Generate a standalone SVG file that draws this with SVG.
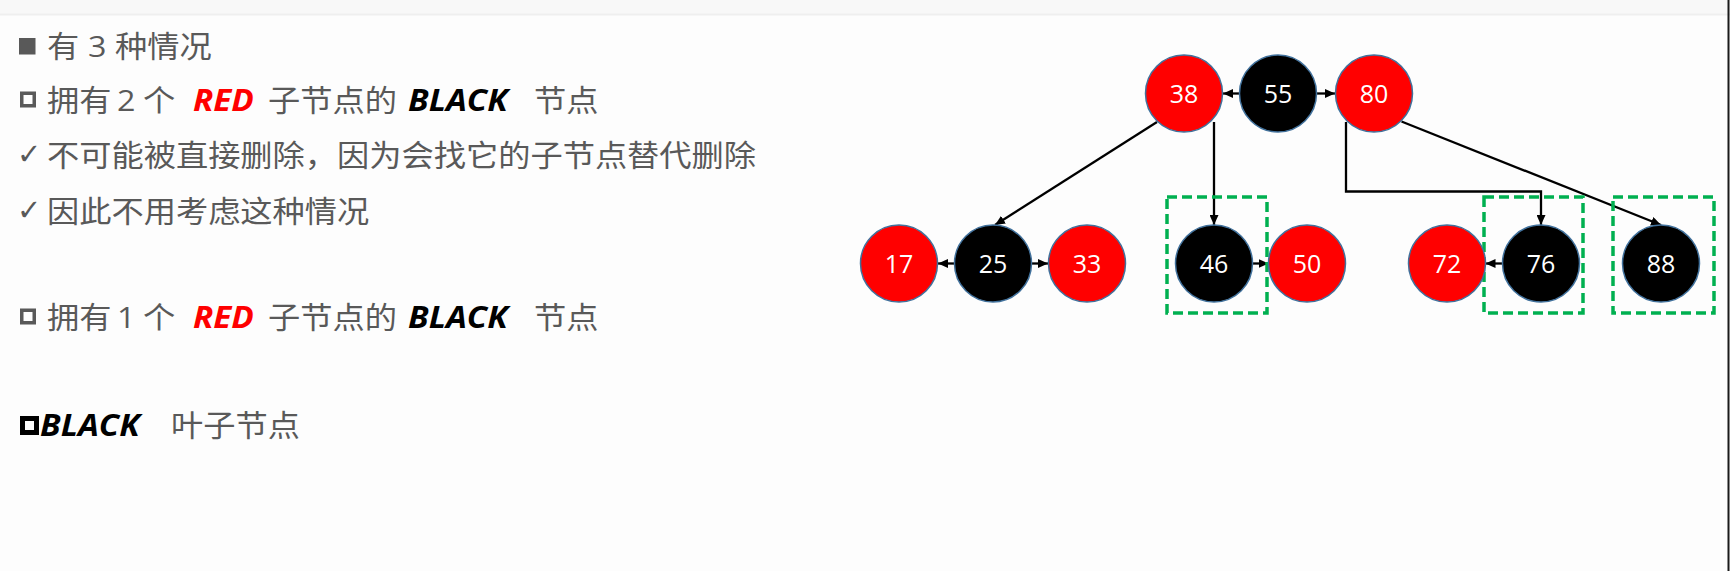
<svg xmlns="http://www.w3.org/2000/svg" width="1730" height="571" viewBox="0 0 1730 571">
<style>
.t{font-family:"Open Sans","Noto Sans CJK SC",sans-serif;font-size:30px;fill:#595959}
.bi{font-weight:700;font-style:italic;font-size:31px}
.red{fill:#ff0000}
.blk{fill:#000000}
.ck{font-family:"DejaVu Sans","Noto Sans CJK SC",sans-serif;font-size:29px;fill:#595959}
.nr{fill:#ff0000;stroke:#41719c;stroke-width:1.5}
.nb{fill:#000000;stroke:#41719c;stroke-width:1.5}
.nt{font-family:"Open Sans","Liberation Sans",sans-serif;font-size:25px;fill:#ffffff;text-anchor:middle}
.e{stroke:#000;stroke-width:2.3;fill:none;marker-end:url(#ah)}
.box{fill:none;stroke:#00b050;stroke-width:3.5;stroke-dasharray:10 5}
</style>
<defs>
<marker id="ah" markerUnits="userSpaceOnUse" markerWidth="10" markerHeight="9" refX="10" refY="4.5" orient="auto">
<path d="M0,0 L10,4.5 L0,9 z" fill="#000"/>
</marker>
</defs>
<rect x="0" y="0" width="1730" height="571" fill="#fdfdfd"/>
<rect x="0" y="0" width="1730" height="14" fill="#f8f8f8"/>
<line x1="0" y1="14.5" x2="1730" y2="14.5" stroke="#efefef" stroke-width="2"/>
<line x1="1728.5" y1="0" x2="1728.5" y2="571" stroke="#1a1a1a" stroke-width="2"/>

<g id="text">
<rect x="19" y="38" width="16.5" height="16.5" fill="#595959"/>
<rect x="21.75" y="93.25" width="12.5" height="12.5" fill="none" stroke="#595959" stroke-width="3.5"/>
<rect x="21.75" y="310.25" width="12.5" height="12.5" fill="none" stroke="#595959" stroke-width="3.5"/>
<rect x="22.5" y="418.5" width="14" height="14" fill="none" stroke="#000" stroke-width="5"/>
<text class="ck" x="17" y="164">✓</text>
<text class="ck" x="17" y="220">✓</text>
<g transform="scale(1.075,1)">
<text class="t" y="57"><tspan x="43.72">有</tspan><tspan x="81.86">3</tspan><tspan x="107">种情况</tspan></text>
<text class="t" y="111"><tspan x="43.72">拥有</tspan><tspan x="108.84">2</tspan><tspan x="133.02">个</tspan><tspan x="179.53" class="bi red">RED</tspan><tspan x="249.3">子节点的</tspan><tspan x="379.53" class="bi blk">BLACK</tspan><tspan x="496.74">节点</tspan></text>
<text class="t" x="43.72" y="166">不可能被直接删除，因为会找它的子节点替代删除</text>
<text class="t" x="43.72" y="222">因此不用考虑这种情况</text>
<text class="t" y="328"><tspan x="43.72">拥有</tspan><tspan x="108.84">1</tspan><tspan x="133.02">个</tspan><tspan x="179.53" class="bi red">RED</tspan><tspan x="249.3">子节点的</tspan><tspan x="379.53" class="bi blk">BLACK</tspan><tspan x="496.74">节点</tspan></text>
<text class="t" y="436"><tspan x="37.2" class="bi blk">BLACK</tspan><tspan x="159.07">叶子节点</tspan></text>
</g>
</g>

<g id="connectors">
<line class="e" x1="1239.5" y1="93.5" x2="1223" y2="93.5"/>
<line class="e" x1="1316.5" y1="93.5" x2="1335" y2="93.5"/>
<line class="e" x1="1157" y1="122" x2="995" y2="225"/>
<line class="e" x1="1214" y1="122" x2="1214" y2="225"/>
<polyline class="e" points="1346,122 1346,191.5 1541,191.5 1541,225"/>
<line class="e" x1="1401.5" y1="121.5" x2="1661" y2="225"/>
<line class="e" x1="954.5" y1="263.5" x2="938" y2="263.5"/>
<line class="e" x1="1031.5" y1="263.5" x2="1048" y2="263.5"/>
<line class="e" x1="1252.5" y1="263.5" x2="1268.5" y2="263.5"/>
<line class="e" x1="1502.5" y1="263.5" x2="1485.5" y2="263.5"/>
</g>

<g id="box-46"><rect class="box" x="1167" y="197" width="100" height="116"/></g>
<g id="box-76"><rect class="box" x="1484" y="197" width="99" height="116"/></g>
<g id="box-88"><rect class="box" x="1613" y="197" width="101" height="116"/></g>

<g id="n38"><circle class="nr" cx="1184" cy="93.5" r="38.5"/><text class="nt" x="1184" y="102.5">38</text></g>
<g id="n55"><circle class="nb" cx="1278" cy="93.5" r="38.5"/><text class="nt" x="1278" y="102.5">55</text></g>
<g id="n80"><circle class="nr" cx="1374" cy="93.5" r="38.5"/><text class="nt" x="1374" y="102.5">80</text></g>
<g id="n17"><circle class="nr" cx="899" cy="263.5" r="38.5"/><text class="nt" x="899" y="272.5">17</text></g>
<g id="n25"><circle class="nb" cx="993" cy="263.5" r="38.5"/><text class="nt" x="993" y="272.5">25</text></g>
<g id="n33"><circle class="nr" cx="1087" cy="263.5" r="38.5"/><text class="nt" x="1087" y="272.5">33</text></g>
<g id="n46"><circle class="nb" cx="1214" cy="263.5" r="38.5"/><text class="nt" x="1214" y="272.5">46</text></g>
<g id="n50"><circle class="nr" cx="1307" cy="263.5" r="38.5"/><text class="nt" x="1307" y="272.5">50</text></g>
<g id="n72"><circle class="nr" cx="1447" cy="263.5" r="38.5"/><text class="nt" x="1447" y="272.5">72</text></g>
<g id="n76"><circle class="nb" cx="1541" cy="263.5" r="38.5"/><text class="nt" x="1541" y="272.5">76</text></g>
<g id="n88"><circle class="nb" cx="1661" cy="263.5" r="38.5"/><text class="nt" x="1661" y="272.5">88</text></g>
</svg>
